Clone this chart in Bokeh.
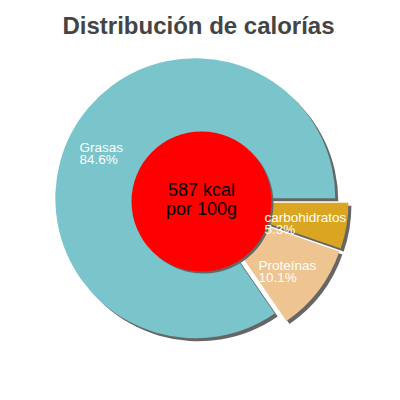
import math
from bokeh.plotting import figure
from bokeh.models import Range1d
from bokeh.core.properties import value
from bokeh.embed import file_html
from bokeh.resources import INLINE

# ---- data ----
title_text = "Distribución de calorías"
categories = ["Grasas", "Proteínas", "carbohidratos"]
percents = [84.6, 10.1, 5.3]
colors = ["#7AC4CC", "#EEC591", "#DAA520"]
center_lines = ["587 kcal", "por 100g"]

# ---- layout (page pixels -> data; y up) ----
W = H = 384
def sx(x):
    return x
def sy(y):
    return H - y

cx, cy = sx(201), sy(201)
R = 140
explode = 7
shadow = 3
inner_r = 70
label_off = {"Grasas": (-122, -54), "Proteínas": (57, 64), "carbohidratos": (63, 16)}

p = figure(width=W, height=H, output_backend="svg", toolbar_location=None,
           x_range=Range1d(0, W), y_range=Range1d(0, H), min_border=0)
p.axis.visible = False
p.grid.visible = False
p.outline_line_color = None
p.background_fill_color = "white"
p.border_fill_color = "white"

total = sum(percents)
starts, ends, xs, ys = [], [], [], []
a = 0.0
for v in percents:
    s = a
    e = a + v / total * 2 * math.pi
    mid = (s + e) / 2
    starts.append(s)
    ends.append(e)
    xs.append(cx + explode * math.cos(mid))
    ys.append(cy + explode * math.sin(mid))
    a = e

# shadows
p.wedge(x=[x + shadow for x in xs], y=[y - shadow for y in ys], radius=R,
        start_angle=starts, end_angle=ends, fill_color="#666666", line_color=None)
# slices
p.wedge(x=xs, y=ys, radius=R, start_angle=starts, end_angle=ends,
        fill_color=colors, line_color=None)

# center circle
p.circle(x=[cx + 2], y=[cy - 2], radius=inner_r, fill_color="#666666", line_color=None)
p.circle(x=[cx], y=[cy], radius=inner_r, fill_color="#FF0000", line_color=None)

p.text(x=[cx, cx], y=[cy + 12, cy - 7], text=center_lines,
       text_font=value("Liberation Sans"), text_font_size="18px",
       text_align="center", text_baseline="middle", text_color="black")

# labels
for name, pct in zip(categories, percents):
    dx, dy = label_off[name]
    p.text(x=[cx + dx, cx + dx], y=[cy - dy, cy - dy - 12],
           text=[name, f"{pct}%"],
           text_font=value("Liberation Sans"), text_font_size="13.5px",
           text_align="left", text_baseline="alphabetic", text_color="white")

# title
p.text(x=[sx(198)], y=[sy(25)], text=[title_text],
       text_font=value("Liberation Sans"), text_font_size="24px", text_font_style="bold",
       text_align="center", text_baseline="alphabetic", text_color="#444444")

open("out.html", "w").write(file_html(p, INLINE))
